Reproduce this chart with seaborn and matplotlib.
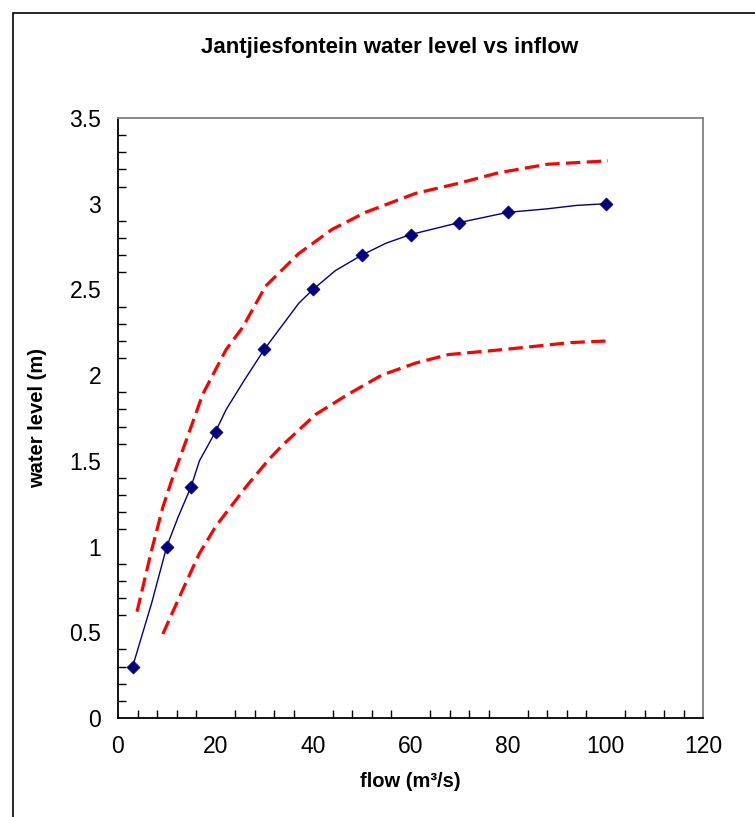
import numpy as np
import pandas as pd
import matplotlib
matplotlib.use("Agg")
import matplotlib.pyplot as plt
import seaborn as sns
from matplotlib.patches import Rectangle
from matplotlib.ticker import MultipleLocator

# ---- data ----
marker_flow = [3, 10, 15, 20, 30, 40, 50, 60, 70, 80, 100]
marker_level = [0.30, 1.00, 1.35, 1.67, 2.15, 2.50, 2.70, 2.82, 2.89, 2.95, 3.00]

line_flow = [3, 6.9, 10, 12.3, 15, 16.7, 20, 22.2, 25.9, 30, 37.1, 40, 44.6, 50,
             55, 60, 70, 80, 88, 94, 100]
line_level = [0.30, 0.67, 1.00, 1.17, 1.35, 1.50, 1.67, 1.80, 1.97, 2.15, 2.42, 2.50,
              2.61, 2.70, 2.77, 2.82, 2.89, 2.95, 2.97, 2.99, 3.00]

upper_flow = [3.9, 6.9, 9.2, 11.3, 14.0, 17.4, 22.2, 25.6, 30.3, 37.1, 43.9, 50.8,
              61.0, 70.0, 78.0, 88.0, 100.5]
upper_level = [0.62, 0.98, 1.23, 1.41, 1.62, 1.89, 2.15, 2.28, 2.52, 2.71, 2.85, 2.95,
               3.06, 3.12, 3.18, 3.23, 3.25]

lower_flow = [9.2, 13.3, 16.7, 20.1, 26.3, 31.0, 33.7, 40.5, 47.3, 54.1, 61.0, 67.8,
              79.3, 92.9, 100.7]
lower_level = [0.49, 0.75, 0.96, 1.12, 1.35, 1.51, 1.59, 1.77, 1.89, 2.00, 2.07, 2.12,
               2.15, 2.19, 2.20]

x_ticks = [0, 20, 40, 60, 80, 100, 120]
y_ticks = [0, 0.5, 1, 1.5, 2, 2.5, 3, 3.5]
y_tick_labels = ["0", "0.5", "1", "1.5", "2", "2.5", "3", "3.5"]

title = "Jantjiesfontein water level vs inflow"
xlabel = "flow (m³/s)"
ylabel = "water level (m)"

# ---- style ----
sns.set_style("white")
plt.rcParams["font.family"] = ["Liberation Sans", "DejaVu Sans"]
plt.rcParams["text.color"] = "black"
plt.rcParams["axes.labelcolor"] = "black"
plt.rcParams["xtick.color"] = "black"
plt.rcParams["ytick.color"] = "black"

fig = plt.figure(figsize=(7.55, 8.17), dpi=100)
ax = fig.add_axes([118 / 755, 1 - 718 / 817, 585 / 755, 600 / 817])

red = "#FF0000"
navy = "#000080"

sns.lineplot(x=upper_flow, y=upper_level, ax=ax, sort=False, color=red,
             linewidth=2.3, linestyle=(0, (4.5, 2.0)))
sns.lineplot(x=lower_flow, y=lower_level, ax=ax, sort=False, color=red,
             linewidth=2.3, linestyle=(0, (4.5, 2.0)))
sns.lineplot(x=line_flow, y=line_level, ax=ax, sort=False, color=navy, linewidth=1.0)
sns.scatterplot(x=marker_flow, y=marker_level, ax=ax, marker="D", s=44,
                color=navy, edgecolor=navy, linewidth=0.5, zorder=5)

ax.set_xlim(0, 120)
ax.set_ylim(0, 3.5)
ax.set_xticks(x_ticks)
ax.set_xticklabels([str(v) for v in x_ticks])
ax.set_yticks(y_ticks)
ax.set_yticklabels(y_tick_labels)
ax.xaxis.set_minor_locator(MultipleLocator(4))
ax.yaxis.set_minor_locator(MultipleLocator(0.1))

ax.tick_params(axis="x", which="major", direction="inout", length=13, width=1.2,
               color="black", labelcolor="black", labelsize=16.5, pad=6)
ax.tick_params(axis="x", which="minor", direction="in", length=6, width=1.0,
               color="black", bottom=True)
ax.tick_params(axis="y", which="major", direction="out", length=7, width=1.2,
               color="black", labelcolor="black", labelsize=16.5, pad=5)
ax.tick_params(axis="y", which="minor", direction="in", length=6, width=1.0,
               color="black", left=True)

for side in ["left", "bottom"]:
    ax.spines[side].set_color("black")
    ax.spines[side].set_linewidth(1.3)
for side in ["top", "right"]:
    ax.spines[side].set_color("#808080")
    ax.spines[side].set_linewidth(1.3)
    ax.spines[side].set_visible(True)

ax.set_xlabel(xlabel, fontsize=14.5, fontweight="bold", labelpad=10, color="black")
ax.set_ylabel(ylabel, fontsize=14.5, fontweight="bold", labelpad=16, color="black")
fig.text(390 / 755, 1 - 48 / 817, title, ha="center", va="center",
         fontsize=16, fontweight="bold", color="black")

frame = Rectangle((13 / 755, -0.1), 1.2, 1 - 13 / 817 + 0.1, transform=fig.transFigure,
                  fill=False, edgecolor="black", linewidth=1.2)
fig.patches.append(frame)

fig.savefig("out.png", dpi=100, facecolor="white")
